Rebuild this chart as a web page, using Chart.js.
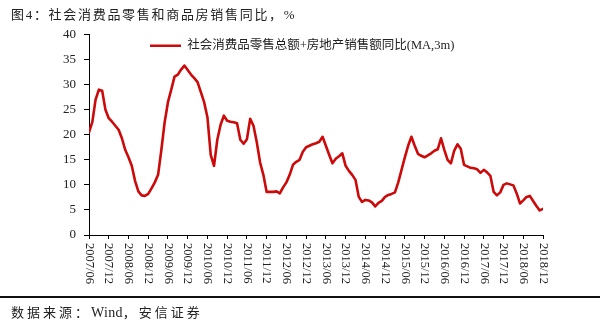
<!DOCTYPE html>
<html>
<head>
<meta charset="utf-8">
<script src="https://cdn.jsdelivr.net/npm/chart.js@4.4.1/dist/chart.umd.min.js"></script>
<style>
  html, body { margin: 0; padding: 0; background: #fff; }
  #wrap { position: relative; width: 600px; height: 328px; overflow: hidden; background: #fff; }
  #chart { position: absolute; left: 0; top: 0; }
  .title {
    position: absolute; left: 11px; top: 4px; white-space: nowrap;
    font: 13px "Liberation Serif", "Noto Sans CJK SC", serif;
    letter-spacing: 1.7px; color: #222;
  }
  .rule { position: absolute; left: 0; top: 296px; width: 600px; height: 1.5px; background: #111; }
  .source {
    position: absolute; left: 11px; top: 302px; white-space: nowrap;
    font: 13px "Liberation Serif", "Noto Sans CJK SC", serif;
    letter-spacing: 3px; color: #222;
  }
  .source .latin { letter-spacing: 0.3px; font-size: 14px; }
</style>
</head>
<body>
<div id="wrap">
  <canvas id="chart" width="600" height="328"></canvas>
  <div class="title">图4：社会消费品零售和商品房销售同比，%</div>
  <div class="rule"></div>
  <div class="source">数据来源：<span class="latin">Wind</span>，安信证券</div>
</div>
<script>
// Monthly series, 2007/06 – 2018/12 (index 0 = 2007/06)
const seriesName = '社会消费品零售总额+房地产销售额同比(MA,3m)';
const yoyValues = [
  20.5, 22.5, 27.0, 29.0, 28.8, 25.0, 23.3, 22.6, 21.8, 21.0, 19.3, 17.0,
  15.5, 13.8, 10.8, 8.7, 7.9, 7.8, 8.2, 9.3, 10.5, 12.0, 17.0, 22.5,
  26.5, 29.0, 31.6, 32.0, 33.0, 33.8, 32.9, 32.0, 31.3, 30.5, 28.5, 26.5,
  23.5, 16.0, 13.8, 19.0, 22.0, 23.8, 22.8, 22.6, 22.5, 22.3, 19.0, 18.2,
  19.1, 23.2, 21.8, 18.5, 14.5, 12.0, 8.6, 8.6, 8.6, 8.7, 8.3, 9.5,
  10.5, 12.0, 14.0, 14.6, 15.0, 16.6, 17.5, 17.8, 18.1, 18.3, 18.6, 19.6,
  17.8, 16.0, 14.3, 15.2, 15.7, 16.3, 13.8, 12.8, 12.0, 11.0, 7.6, 6.6,
  7.0, 6.9, 6.5, 5.7, 6.4, 6.8, 7.6, 8.0, 8.2, 8.5, 10.5, 13.0,
  15.5, 17.8, 19.6, 17.8, 16.2, 15.8, 15.5, 15.9, 16.3, 16.8, 17.1, 19.3,
  17.0, 15.0, 14.3, 16.8, 18.1, 17.2, 14.0, 13.7, 13.4, 13.3, 13.1, 12.4,
  13.0, 12.5, 11.8, 8.6, 7.9, 8.5, 10.0, 10.3, 10.1, 9.9, 8.3, 6.3,
  6.9, 7.6, 7.8, 6.8, 5.8, 4.9, 5.2
];
// Half-year tick labels along the time axis
const tickLabels = [
  '2007/06', '2007/12', '2008/06', '2008/12', '2009/06', '2009/12',
  '2010/06', '2010/12', '2011/06', '2011/12', '2012/06', '2012/12',
  '2013/06', '2013/12', '2014/06', '2014/12', '2015/06', '2015/12',
  '2016/06', '2016/12', '2017/06', '2017/12', '2018/06', '2018/12'
];
const yTicks = { min: 0, max: 40, step: 5 };
const monthsPerTick = 6;

const serif = '"Liberation Serif", "Noto Sans CJK SC", serif';
const lineColor = '#cc0a0a';

// Vertical date labels read top-to-bottom, and the legend sits inside the plot
const axisAndLegendTweaks = {
  id: 'axisAndLegendTweaks',
  beforeLayout(chart) {
    if (chart.scales.x) chart.scales.x._getXAxisLabelAlignment = () => 'left';
  },
  afterLayout(chart) {
    const lg = chart.legend;
    if (!lg) return;
    const w = lg.right - lg.left;
    const h = lg.bottom - lg.top;
    lg.left = 146;
    lg.right = 146 + w;
    lg.top = 35.5;
    lg.bottom = 35.5 + h;
  }
};

new Chart(document.getElementById('chart'), {
  type: 'line',
  data: {
    datasets: [{
      label: seriesName,
      data: yoyValues.map((v, i) => ({ x: i, y: v })),
      borderColor: lineColor,
      backgroundColor: lineColor,
      borderWidth: 2.6,
      pointRadius: 0,
      tension: 0,
      borderJoinStyle: 'round',
      borderCapStyle: 'round'
    }]
  },
  options: {
    responsive: false,
    devicePixelRatio: 1,
    animation: false,
    layout: { padding: { left: 0, right: 57, top: 34.5, bottom: 33 } },
    plugins: {
      legend: {
        position: 'chartArea',
        align: 'start',
        labels: {
          usePointStyle: true,
          pointStyle: 'line',
          pointStyleWidth: 31,
          padding: 4,
          color: '#222',
          font: { family: serif, size: 12.5 }
        }
      },
      tooltip: { enabled: false }
    },
    scales: {
      x: {
        type: 'linear',
        min: 0,
        max: (tickLabels.length - 1) * monthsPerTick,
        border: { color: '#000', width: 1 },
        grid: { drawOnChartArea: false, color: '#000', tickLength: 4 },
        ticks: {
          stepSize: monthsPerTick,
          autoSkip: false,
          minRotation: -90,
          maxRotation: -90,
          padding: 4,
          color: '#222',
          font: { family: serif, size: 12.5 },
          callback: (v) => tickLabels[Math.round(v / monthsPerTick)]
        },
        afterFit: (s) => { s.height = 60; }
      },
      y: {
        min: yTicks.min,
        max: yTicks.max,
        border: { color: '#000', width: 1 },
        grid: { drawOnChartArea: false, color: '#000', tickLength: 5 },
        ticks: {
          stepSize: yTicks.step,
          padding: 8,
          color: '#222',
          font: { family: serif, size: 13 }
        },
        afterFit: (s) => { s.width = 89; }
      }
    }
  },
  plugins: [axisAndLegendTweaks]
});
</script>
</body>
</html>
